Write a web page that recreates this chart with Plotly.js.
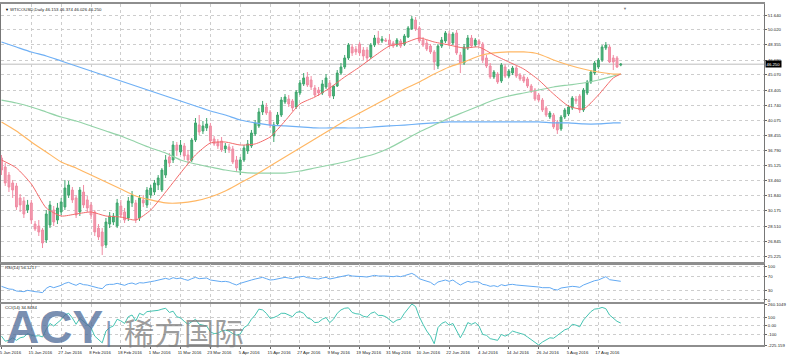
<!DOCTYPE html>
<html><head><meta charset="utf-8">
<script src="https://cdn.plot.ly/plotly-3.0.1.min.js"></script>
<style>html,body{margin:0;padding:0;background:#fff;}#chart{width:789px;height:355px;}</style>
</head><body><div id="chart"></div>
<script>
const symbol = "WTICOUSD";
const dates = [
"2016-01-05","2016-01-06","2016-01-07","2016-01-08","2016-01-11","2016-01-12","2016-01-13","2016-01-14","2016-01-15","2016-01-18","2016-01-19","2016-01-20","2016-01-21","2016-01-22","2016-01-25","2016-01-26","2016-01-27","2016-01-28","2016-01-29",
"2016-02-01","2016-02-02","2016-02-03","2016-02-04","2016-02-05","2016-02-08","2016-02-09","2016-02-10","2016-02-11","2016-02-12","2016-02-15","2016-02-16","2016-02-17","2016-02-18","2016-02-19","2016-02-22","2016-02-23","2016-02-24","2016-02-25","2016-02-26","2016-02-29",
"2016-03-01","2016-03-02","2016-03-03","2016-03-04","2016-03-07","2016-03-08","2016-03-09","2016-03-10","2016-03-11","2016-03-14","2016-03-15","2016-03-16","2016-03-17","2016-03-18","2016-03-21","2016-03-22","2016-03-23","2016-03-24","2016-03-28","2016-03-29","2016-03-30","2016-03-31",
"2016-04-01","2016-04-04","2016-04-05","2016-04-06","2016-04-07","2016-04-08","2016-04-11","2016-04-12","2016-04-13","2016-04-14","2016-04-15","2016-04-18","2016-04-19","2016-04-20","2016-04-21","2016-04-22","2016-04-25","2016-04-26","2016-04-27","2016-04-28","2016-04-29",
"2016-05-02","2016-05-03","2016-05-04","2016-05-05","2016-05-06","2016-05-09","2016-05-10","2016-05-11","2016-05-12","2016-05-13","2016-05-16","2016-05-17","2016-05-18","2016-05-19","2016-05-20","2016-05-23","2016-05-24","2016-05-25","2016-05-26","2016-05-27","2016-05-30","2016-05-31",
"2016-06-01","2016-06-02","2016-06-03","2016-06-06","2016-06-07","2016-06-08","2016-06-09","2016-06-10","2016-06-13","2016-06-14","2016-06-15","2016-06-16","2016-06-17","2016-06-20","2016-06-21","2016-06-22","2016-06-23","2016-06-24","2016-06-27","2016-06-28","2016-06-29","2016-06-30",
"2016-07-01","2016-07-04","2016-07-05","2016-07-06","2016-07-07","2016-07-08","2016-07-11","2016-07-12","2016-07-13","2016-07-14","2016-07-15","2016-07-18","2016-07-19","2016-07-20","2016-07-21","2016-07-22","2016-07-25","2016-07-26","2016-07-27","2016-07-28","2016-07-29",
"2016-08-01","2016-08-02","2016-08-03","2016-08-04","2016-08-05","2016-08-08","2016-08-09","2016-08-10","2016-08-11","2016-08-12","2016-08-15","2016-08-16","2016-08-17","2016-08-18","2016-08-19","2016-08-22","2016-08-23","2016-08-24","2016-08-25"
];
const tickLabels = ["5 Jan 2016","15 Jan 2016","27 Jan 2016","8 Feb 2016","18 Feb 2016","1 Mar 2016","11 Mar 2016","23 Mar 2016","5 Apr 2016","15 Apr 2016","27 Apr 2016","9 May 2016","19 May 2016","31 May 2016","10 Jun 2016","22 Jun 2016","4 Jul 2016","14 Jul 2016","26 Jul 2016","5 Aug 2016","17 Aug 2016"];
const tickEvery = 8;

const open = [35.97,34.98,34.10,33.23,32.90,31.59,31.26,30.27,31.04,28.73,28.51,28.08,26.98,28.62,30.27,29.17,30.05,30.60,31.91,32.46,
31.59,30.05,32.24,31.37,30.82,30.05,28.29,27.86,26.43,28.73,28.95,28.51,30.71,30.05,29.39,31.04,31.04,29.39,31.37,30.82,
31.91,32.24,33.01,32.46,34.10,36.08,35.75,37.39,36.63,37.29,36.30,35.75,37.94,39.59,38.93,39.26,39.48,38.05,37.72,37.83,
36.96,37.18,36.96,35.75,34.65,35.75,36.74,37.29,38.60,39.48,41.01,41.56,41.01,38.38,39.70,40.68,42.11,42.43,42.22,41.56,
43.09,44.08,44.85,44.52,43.64,43.42,43.09,43.75,44.19,42.76,43.86,45.28,45.94,46.93,48.13,47.91,48.46,47.80,47.80,47.04,
48.35,49.12,48.79,48.90,48.90,48.57,48.35,48.79,48.46,49.23,50.11,51.09,50.22,48.90,48.57,48.24,47.59,46.05,48.24,48.79,
49.56,48.57,49.67,47.26,46.38,48.02,49.12,48.35,48.79,48.46,46.93,46.05,44.85,45.17,44.41,45.94,44.95,45.28,45.83,45.06,
44.85,44.63,43.86,43.42,42.87,42.32,41.45,40.46,40.68,39.92,39.15,40.46,40.79,41.45,42.43,42.76,41.23,43.09,44.30,45.28,
45.94,46.71,48.02,48.13,46.93,46.93,46.153];
const high = [36.30,35.42,34.43,33.56,33.23,32.02,31.69,31.37,31.37,29.06,29.17,28.29,30.27,31.26,30.71,31.04,31.59,33.56,33.45,32.79,
31.91,32.79,33.01,31.80,31.15,30.27,28.73,28.29,29.39,30.05,29.94,31.48,31.37,30.49,31.69,32.35,31.37,31.91,31.91,32.79,
33.01,33.56,34.10,34.87,36.30,36.52,37.83,37.72,37.94,37.61,36.85,38.16,40.35,40.68,40.02,40.35,39.81,38.38,38.05,38.27,
37.61,37.51,37.29,36.19,36.08,37.39,37.94,39.04,40.13,41.45,42.22,42.00,41.23,39.92,41.01,42.65,42.98,42.87,42.43,43.42,
44.52,45.28,45.39,44.95,43.97,43.75,44.52,45.17,44.52,43.97,45.61,46.38,47.26,48.57,48.46,48.24,48.68,48.13,48.13,48.57,
49.45,49.89,49.34,49.12,49.56,48.79,49.12,49.01,49.56,50.43,51.53,51.42,50.43,49.23,48.90,48.46,47.80,48.46,49.23,49.89,
49.89,49.78,50.00,47.59,48.46,49.45,49.45,49.12,49.01,48.68,47.26,46.38,45.61,45.39,46.38,46.27,45.72,46.05,46.05,45.28,
45.06,44.85,44.08,43.64,43.09,42.54,41.67,41.12,40.90,40.13,40.68,41.45,41.78,42.76,42.76,42.98,43.64,44.52,45.61,46.60,
46.93,48.35,48.68,48.35,47.26,47.15,46.374];
const low = [34.10,32.90,32.24,31.59,30.27,30.05,29.39,29.94,28.73,27.97,27.42,26.10,26.65,28.29,28.51,28.73,29.72,30.27,31.59,31.04,
29.39,29.61,30.49,30.05,29.28,27.42,26.98,25.34,26.10,28.29,28.62,28.29,29.39,28.84,29.06,30.60,28.84,29.06,30.60,30.49,
31.59,31.91,32.46,32.24,33.78,34.98,35.42,36.19,36.30,35.75,35.31,35.53,37.72,38.49,38.60,38.93,37.61,37.29,36.96,36.63,
36.52,36.52,35.31,34.43,34.10,35.53,36.41,37.07,38.38,39.26,40.68,40.68,39.26,37.72,39.48,40.46,41.89,41.56,41.12,41.34,
42.87,43.86,43.75,43.42,42.65,42.76,42.87,43.53,42.54,42.43,43.75,45.06,45.72,46.71,47.15,47.26,47.15,46.71,46.49,46.82,
48.13,48.35,48.57,48.68,48.13,48.02,48.13,48.02,48.24,49.12,50.00,49.89,48.57,48.13,47.69,47.37,45.61,45.72,48.02,48.57,
48.24,48.35,47.26,45.28,46.16,47.80,48.02,48.13,48.24,46.38,45.83,44.63,44.63,44.08,44.19,44.74,44.74,45.06,44.74,44.41,
44.19,43.64,43.09,42.22,42.11,41.01,40.46,40.24,39.15,38.60,38.93,40.24,40.57,41.23,41.89,40.90,41.01,42.87,44.08,45.06,
45.72,46.49,47.80,46.38,45.61,45.83,46.026];
const close = [34.65,33.23,32.79,32.46,30.60,30.82,29.83,30.82,29.17,28.19,27.86,26.65,29.83,30.82,28.95,30.49,31.15,32.68,33.01,31.37,
29.72,32.46,30.82,30.49,29.72,27.86,27.31,26.32,28.95,29.61,29.61,31.04,29.72,29.17,31.26,31.91,29.17,31.59,31.04,32.46,
32.68,33.23,33.78,34.65,35.75,35.42,37.39,36.85,37.39,36.19,35.75,37.94,39.81,38.82,39.48,39.70,37.83,37.51,37.29,36.85,
37.29,36.85,35.53,34.87,35.75,37.07,37.51,38.71,39.81,41.01,41.78,40.90,39.59,39.59,40.68,42.32,42.65,41.89,41.45,43.20,
44.19,44.74,43.97,43.75,42.87,43.09,44.08,44.74,42.76,43.86,45.28,45.94,46.93,48.35,47.48,47.59,47.48,47.15,46.93,48.35,
49.12,48.57,49.01,48.79,48.35,48.24,48.90,48.24,49.34,50.22,51.20,50.11,48.79,48.35,47.91,47.59,46.49,48.24,48.90,49.67,
48.46,49.56,47.48,46.38,48.13,49.12,48.24,48.90,48.46,46.71,46.05,44.85,45.39,44.30,46.16,44.95,45.50,45.83,44.95,44.63,
44.41,43.86,43.31,42.43,42.32,41.23,40.68,40.90,39.37,39.04,40.46,41.23,41.56,42.54,42.22,41.23,43.42,44.30,45.39,46.38,
46.71,48.13,48.35,46.49,46.49,45.94,46.250];

// moving averages read at every 4th bar (plus the last bar)
const maIdx = [0,4,8,12,16,20,24,28,32,36,40,44,48,52,56,60,64,68,72,76,80,84,88,92,96,100,104,108,112,116,120,124,128,132,136,140,144,148,152,156,160,164,166];
const maRed = [35.75,34.87,33.12,30.49,29.61,29.83,30.05,29.61,29.50,29.17,30.27,32.24,34.32,36.30,37.61,37.72,37.39,37.51,38.27,40.02,41.89,42.65,43.64,44.85,45.94,47.15,48.24,48.57,49.12,48.68,48.35,48.02,48.13,47.26,46.49,45.72,44.52,42.98,41.67,41.34,42.87,44.74,45.17];
const maOrange = [39.92,38.93,37.72,36.63,35.53,34.87,34.10,33.34,32.57,31.80,31.37,31.04,31.04,31.26,31.69,32.35,33.23,34.10,35.09,36.08,37.07,38.05,39.04,40.02,40.90,41.78,42.65,43.53,44.30,45.17,45.94,46.49,47.15,47.48,47.59,47.59,47.37,46.71,46.16,45.72,45.39,45.17,45.17];
const maGreen = [42.32,42.00,41.56,41.01,40.46,40.02,39.48,38.93,38.38,37.72,37.07,36.52,35.75,35.31,34.98,34.65,34.43,34.32,34.32,34.32,34.54,34.87,35.20,35.53,35.97,36.41,37.07,37.94,38.82,39.58,40.35,41.01,41.67,42.32,42.76,43.09,43.42,43.75,43.97,44.19,44.52,44.95,45.17];
const maBlue = [48.68,48.13,47.59,47.15,46.60,46.05,45.50,44.95,44.41,43.86,43.31,42.76,42.22,41.67,41.12,40.68,40.13,39.81,39.58,39.48,39.37,39.26,39.26,39.26,39.26,39.37,39.48,39.58,39.70,39.81,39.92,39.92,39.92,39.92,39.92,39.92,39.92,39.81,39.81,39.70,39.70,39.81,39.81];

const rsi = [41,36,33,32,27,26,25,29,26,25, 24,22,35,41,37,40,44,50,53,48, 44,50,46,45,42,37,36,34,45,47, 47,50,46,44,49,51,47,52,51,54,
55,57,59,62,65,62,67,64,66,62, 59,64,68,64,65,66,60,58,57,55, 56,54,49,45,50,54,56,60,63,66, 68,64,60,61,64,67,68,66,64,68,
70,71,67,66,63,63,66,68,63,65, 69,71,73,75,72,72,72,70,69,72, 74,72,73,72,71,70,72,70,73,76, 80,74,64,60,56,53,45,54,57,60,
56,60,52,45,51,56,53,55,54,47, 45,41,43,40,46,43,46,47,45,44, 45,43,41,40,39,37,36,37,32,30, 36,38,40,41,40,38,45,50,54,58,
60,65,70,61,60,57,56.1217];
const cci = [-120,-180,-170,-140,-170,-140,-130,-90,-110,-120, -115,-130,-40,30,0,40,75,130,150,95, 20,90,55,25,-20,-120,-160,-200,-60,-20,
0,80,60,30,110,130,60,150,130,170, 175,180,185,199,210,160,175,110,95,55, 20,50,80,20,10,0,-70,-90,-85,-60,
-50,-60,-90,-110,-95,-20,10,80,130,199, 190,150,90,100,120,150,150,130,110,160, 170,150,95,80,40,45,80,100,40,80,
150,190,210,215,160,145,140,115,105,150, 165,125,125,110,70,40,70,80,150,200, 260.1049,230,110,20,-60,-120,-210,-20,30,50,
10,30,-60,-140,-60,40,20,40,0,-100, -110,-150,-160,-170,-100,-120,-100,-60,-75,-90, -100,-130,-160,-200,-225.159,-190,-165,-140,-145,-110,
-70,-45,-30,20,10,-10,70,115,170,200, 205,220,205,130,95,55,34.8484];

const priceTicks = [51.640,50.020,48.355,46.690,45.070,43.405,41.740,40.075,38.455,36.790,35.125,33.460,31.840,30.175,28.510,26.845,25.225];
const rsiTicks = [0,30,70,100];
const cciTicks = [-225.159,-100,0,100,260.1049];
const cciTickText = ["-225.159","-100","0.00","100","260.1049"];

const n = dates.length;
const last = n - 1;
const maDates = maIdx.map(i => dates[i]);
const tickDates = dates.filter((d, i) => i % tickEvery === 0);

const FONT = 'Liberation Sans, Arial, sans-serif';
const GRID = '#cdcdcd';
const FRAME = '#8e8e8e';

const traces = [
  {type:'candlestick', x:dates, open:open, high:high, low:low, close:close, xaxis:'x', yaxis:'y',
   increasing:{line:{color:'#3ea56d', width:1}, fillcolor:'#4cb47c'},
   decreasing:{line:{color:'#f08ba2', width:1}, fillcolor:'#f29bb0'},
   whiskerwidth:0, hoverinfo:'skip'},
  {type:'scatter', mode:'lines', x:maDates, y:maBlue, xaxis:'x', yaxis:'y', line:{color:'#6fb0f5', width:1.2, shape:'spline', smoothing:0.6}},
  {type:'scatter', mode:'lines', x:maDates, y:maGreen, xaxis:'x', yaxis:'y', line:{color:'#93d3a8', width:1.2, shape:'spline', smoothing:0.6}},
  {type:'scatter', mode:'lines', x:maDates, y:maOrange, xaxis:'x', yaxis:'y', line:{color:'#ffb764', width:1.2, shape:'spline', smoothing:0.6}},
  {type:'scatter', mode:'lines', x:maDates, y:maRed, xaxis:'x', yaxis:'y', line:{color:'#f26b6b', width:1, shape:'spline', smoothing:0.6}},
  {type:'scatter', mode:'lines', x:dates, y:rsi, xaxis:'x2', yaxis:'y2', line:{color:'#62a9f2', width:1}},
  {type:'scatter', mode:'lines', x:dates, y:cci, xaxis:'x3', yaxis:'y3', line:{color:'#45c4b2', width:1}}
];

function xAxis(extra) {
  return Object.assign({
    type:'category', range:[-0.13, 204.4], tickvals:tickDates, ticktext:tickLabels,
    showticklabels:false, ticks:'', showgrid:true, gridcolor:GRID, griddash:'dot', gridwidth:1,
    showline:true, mirror:true, linecolor:FRAME, linewidth:2, zeroline:false, fixedrange:true,
    rangeslider:{visible:false}
  }, extra);
}
function yAxis(extra) {
  return Object.assign({
    side:'right', showgrid:true, gridcolor:GRID, griddash:'dot', gridwidth:1,
    ticks:'outside', ticklen:2, tickcolor:'#666', showline:true, mirror:true, linecolor:'#777', linewidth:1,
    zeroline:false, fixedrange:true, tickfont:{size:4.3, color:'#222', family:FONT}
  }, extra);
}

const layout = {
  width:789, height:355, autosize:false,
  margin:{l:1, r:25, t:4, b:10, pad:0},
  paper_bgcolor:'#ffffff', plot_bgcolor:'#ffffff',
  showlegend:false, hovermode:false,
  font:{family:FONT, size:4.3, color:'#222'},
  xaxis: xAxis({anchor:'y'}),
  xaxis2: xAxis({anchor:'y2', matches:'x'}),
  xaxis3: xAxis({anchor:'y3', matches:'x', showticklabels:true, ticks:'outside', ticklen:2, tickcolor:'#666',
                 tickfont:{size:4.3, color:'#222', family:FONT}, ticklabelshift:9, ticklabelstandoff:0}),
  yaxis: yAxis({domain:[0.2419, 1], range:[24.513, 52.846], tickvals:priceTicks, ticktext:priceTicks.map(v => v.toFixed(3))}),
  yaxis2: yAxis({domain:[0.1261, 0.2361], range:[-6, 106.6], tickvals:rsiTicks, ticktext:rsiTicks.map(String)}),
  yaxis3: yAxis({domain:[0, 0.1202], range:[-225.159, 260.1049], tickvals:cciTicks, ticktext:cciTickText}),
  shapes:[
    {type:'line', xref:'paper', x0:0, x1:1, yref:'y', y0:close[last], y1:close[last], line:{color:'#bdbdbd', width:1}, layer:'below'}
  ],
  annotations:[
    {xref:'paper', yref:'paper', x:0.003, y:0.985, xanchor:'left', yanchor:'middle', showarrow:false,
     text:'▼', font:{size:4, color:'#000'}},
    {xref:'paper', yref:'paper', x:0.009, y:0.985, xanchor:'left', yanchor:'middle', showarrow:false,
     text: symbol + ',Daily ' + [open[last], high[last], low[last], close[last]].map(v => v.toFixed(3)).join(' '),
     font:{size:4.3, color:'#222', family:FONT}},
    {xref:'paper', yref:'paper', x:0.003, y:0.2275, xanchor:'left', yanchor:'middle', showarrow:false,
     text:'RSI(14) ' + rsi[last].toFixed(4), font:{size:4.3, color:'#222', family:FONT}},
    {xref:'paper', yref:'paper', x:0.003, y:0.110, xanchor:'left', yanchor:'middle', showarrow:false,
     text:'CCI(14) ' + cci[last].toFixed(4), font:{size:4.3, color:'#222', family:FONT}},
    {xref:'paper', yref:'y', x:1, y:close[last], xanchor:'left', yanchor:'middle', xshift:1, showarrow:false,
     text:close[last].toFixed(3), bgcolor:'#000', borderpad:0.5, font:{size:4.3, color:'#fff', family:FONT}},
    {xref:'paper', yref:'paper', x:0.818, y:1.0, xanchor:'center', yanchor:'top', showarrow:false,
     text:'▼', font:{size:4, color:'#777'}},
    {xref:'paper', yref:'paper', x:0.004, y:-0.029, xanchor:'left', yanchor:'bottom', showarrow:false,
     text:'<b>ACY</b>', font:{size:46, color:'rgba(84,112,156,0.78)', family:'Liberation Sans, Arial, sans-serif'}},
    {xref:'paper', yref:'paper', x:0.1405, y:0.04, xanchor:'center', yanchor:'middle', showarrow:false,
     text:'|', font:{size:28, color:'rgba(84,112,156,0.7)', family:'Liberation Sans, Arial, sans-serif'}},
    {xref:'paper', yref:'paper', x:0.158, y:0.04, xanchor:'left', yanchor:'middle', showarrow:false,
     text:'稀方国际', font:{size:30, color:'rgba(125,125,125,0.75)', family:'Noto Sans CJK SC, sans-serif'}}
  ]
};

Plotly.newPlot('chart', traces, layout, {staticPlot:true, displayModeBar:false});
</script>
</body></html>
